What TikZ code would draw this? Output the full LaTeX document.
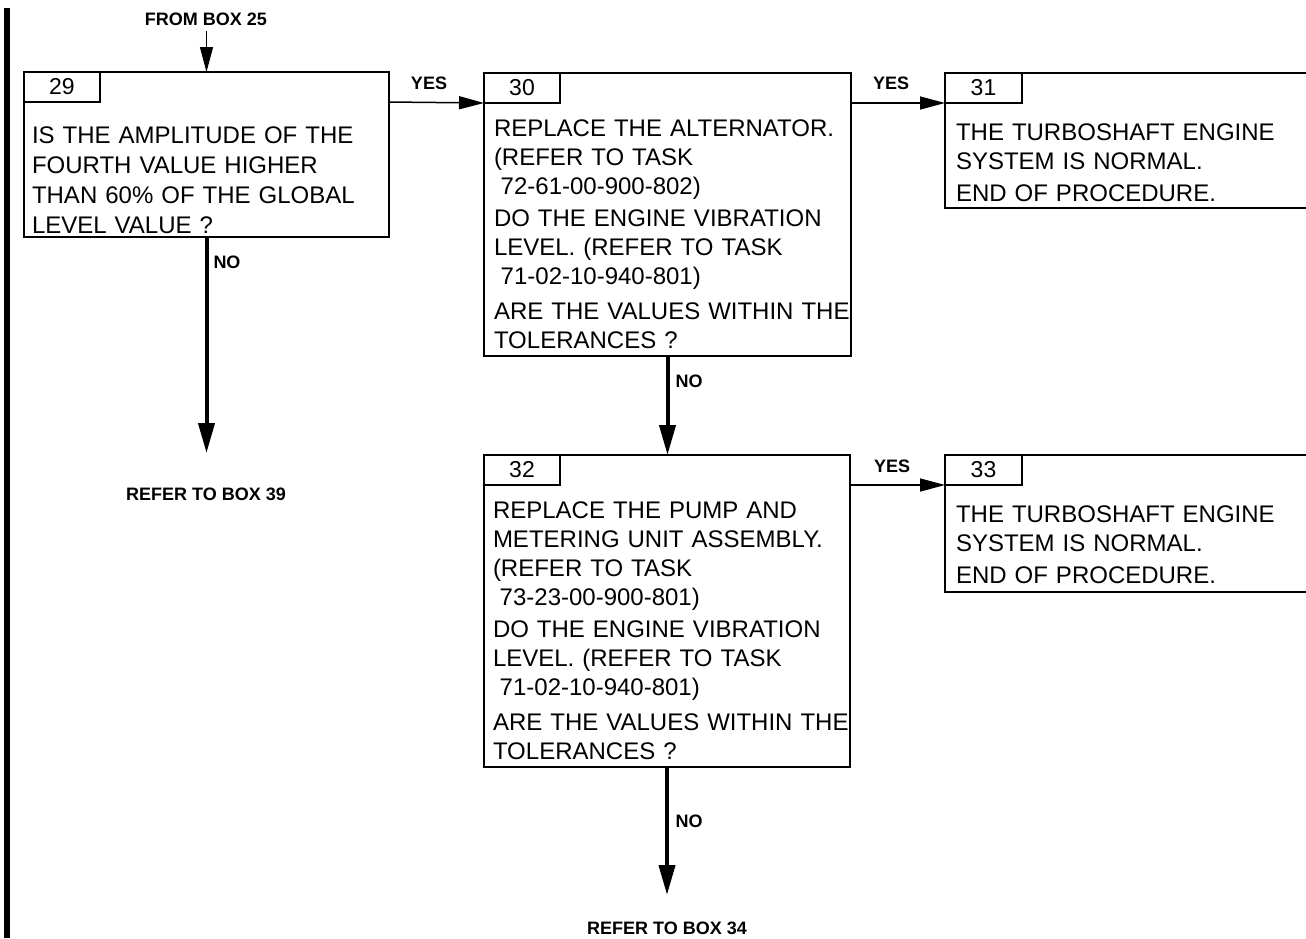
\documentclass[tikz,border=0pt]{standalone}
\usepackage{fontspec}
\setmainfont{Liberation Sans}
\usetikzlibrary{arrows.meta}
\begin{document}
\begin{tikzpicture}[x=1pt,y=-1pt,
  box/.style={draw, line width=2pt, inner sep=0pt, outer sep=0pt, anchor=north west},
  numbox/.style={draw, line width=1.8pt, inner sep=0pt, outer sep=0pt, minimum width=76pt, minimum height=30pt, anchor=north west, font=\fontsize{23}{28}\selectfont},
  txt/.style={inner sep=0pt, outer sep=0pt, anchor=base west, text width=400pt, align=left, font=\fontsize{24}{29}\selectfont},
  lbl/.style={inner sep=0pt, font=\fontsize{18}{20}\selectfont\bfseries},
  thinarrow/.style={line width=1.5pt, -{Triangle[length=25pt,width=13pt]}},
  thickarrow/.style={line width=4pt, -{Triangle[length=30pt,width=16pt]}},
]
\path[use as bounding box] (0,0) rectangle (1306,938);
\clip (0,0) rectangle (1306,938);

% left margin bar
\draw[line width=5.5pt] (6.75,8) -- (6.75,938);

% box 29
\node[box, minimum width=365pt, minimum height=165pt] (b29) at (24,72) {};
\node[numbox] (n29) at (b29.north west) {29};
\node[txt, font=\fontsize{24}{30}\selectfont] (t29) at (32,143) {IS THE AMPLITUDE OF THE\\FOURTH VALUE HIGHER\\THAN 60\% OF THE GLOBAL\\LEVEL VALUE ?};

% box 30
\node[box, minimum width=367pt, minimum height=283pt] (b30) at (484,73) {};
\node[numbox] (n30) at (b30.north west) {30};
\node[txt] (t30) at (494,136) {REPLACE THE ALTERNATOR.\\(REFER TO TASK\\\hspace*{0.28em}72-61-00-900-802)\\[3pt]DO THE ENGINE VIBRATION\\LEVEL. (REFER TO TASK\\\hspace*{0.28em}71-02-10-940-801)\\[6pt]ARE THE VALUES WITHIN THE\\TOLERANCES ?};

% box 31
\node[box, minimum width=380pt, minimum height=135pt] (b31) at (945,73) {};
\node[numbox, minimum width=77pt] (n31) at (b31.north west) {31};
\node[txt] (t31) at (956,140) {THE TURBOSHAFT ENGINE\\SYSTEM IS NORMAL.\\[3pt]END OF PROCEDURE.};

% box 32
\node[box, minimum width=366pt, minimum height=312pt] (b32) at (484,455) {};
\node[numbox] (n32) at (b32.north west) {32};
\node[txt] (t32) at (493,518) {REPLACE THE PUMP AND\\METERING UNIT ASSEMBLY.\\(REFER TO TASK\\\hspace*{0.28em}73-23-00-900-801)\\[3pt]DO THE ENGINE VIBRATION\\LEVEL. (REFER TO TASK\\\hspace*{0.28em}71-02-10-940-801)\\[6pt]ARE THE VALUES WITHIN THE\\TOLERANCES ?};

% box 33
\node[box, minimum width=380pt, minimum height=137pt] (b33) at (945,455) {};
\node[numbox, minimum width=77pt] (n33) at (b33.north west) {33};
\node[txt] (t33) at (956,522) {THE TURBOSHAFT ENGINE\\SYSTEM IS NORMAL.\\[3pt]END OF PROCEDURE.};

% labels
\node[lbl] (f25) at (206,19) {FROM BOX 25};
\node[lbl] (y1) at (429,83) {YES};
\node[lbl] (y2) at (891,83) {YES};
\node[lbl] (y3) at (892,466) {YES};
\node[lbl] (no1) at (227,262) {NO};
\node[lbl] (no2) at (689,381) {NO};
\node[lbl] (no3) at (689,821) {NO};
\node[lbl] (r39) at (206,494) {REFER TO BOX 39};
\node[lbl] (r34) at (667,928) {REFER TO BOX 34};
\coordinate (e39) at (b29.south |- 0,453);
\coordinate (e34) at (b32.south |- 0,895);

% connectors
\draw[thinarrow, line width=1.2pt] (b29.north |- 0,31) -- (b29.north);
\draw[thickarrow] (b29.south) -- (e39);
\draw[thinarrow] (n29.south -| b29.east) -- (n30.south west);
\draw[thinarrow] (n30.south -| b30.east) -- (n31.south west);
\draw[thickarrow] (b30.south) -- (b30.south |- b32.north);
\draw[thinarrow] (n32.south -| b32.east) -- (n33.south west);
\draw[thickarrow] (b32.south) -- (e34);
\end{tikzpicture}
\end{document}
